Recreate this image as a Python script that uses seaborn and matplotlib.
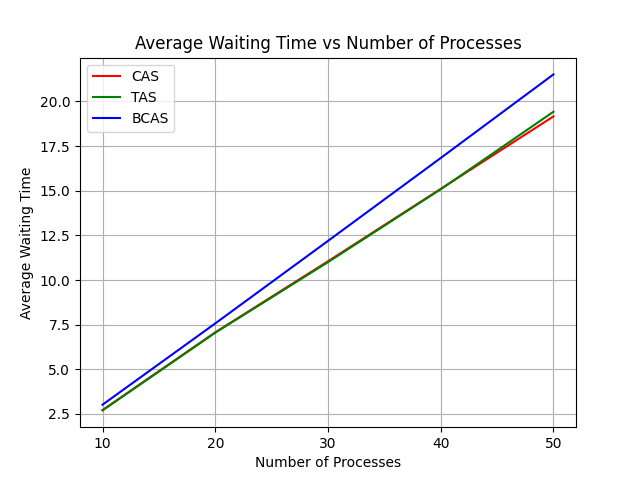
import pandas as pd
import matplotlib
matplotlib.use("Agg")
import matplotlib.pyplot as plt
import seaborn as sns

# data
num_processes = [10, 20, 30, 40, 50]
cas_wait = [2.72, 7.07, 11.05, 15.10, 19.16]
tas_wait = [2.70, 7.05, 11.00, 15.08, 19.42]
bcas_wait = [3.02, 7.57, 12.19, 16.83, 21.51]

df = pd.DataFrame({
    "Number of Processes": num_processes * 3,
    "Average Waiting Time": cas_wait + tas_wait + bcas_wait,
    "Algorithm": ["CAS"] * 5 + ["TAS"] * 5 + ["BCAS"] * 5,
})

fig, ax = plt.subplots(figsize=(6.4, 4.8), dpi=100)

sns.lineplot(
    data=df,
    x="Number of Processes",
    y="Average Waiting Time",
    hue="Algorithm",
    palette={"CAS": "red", "TAS": "green", "BCAS": "blue"},
    ax=ax,
)

ax.set_title("Average Waiting Time vs Number of Processes")
ax.set_xlabel("Number of Processes")
ax.set_ylabel("Average Waiting Time")
ax.set_xticks([10, 20, 30, 40, 50])
ax.grid(True)
ax.legend(title=None, loc="upper left")

plt.savefig("out.png")
